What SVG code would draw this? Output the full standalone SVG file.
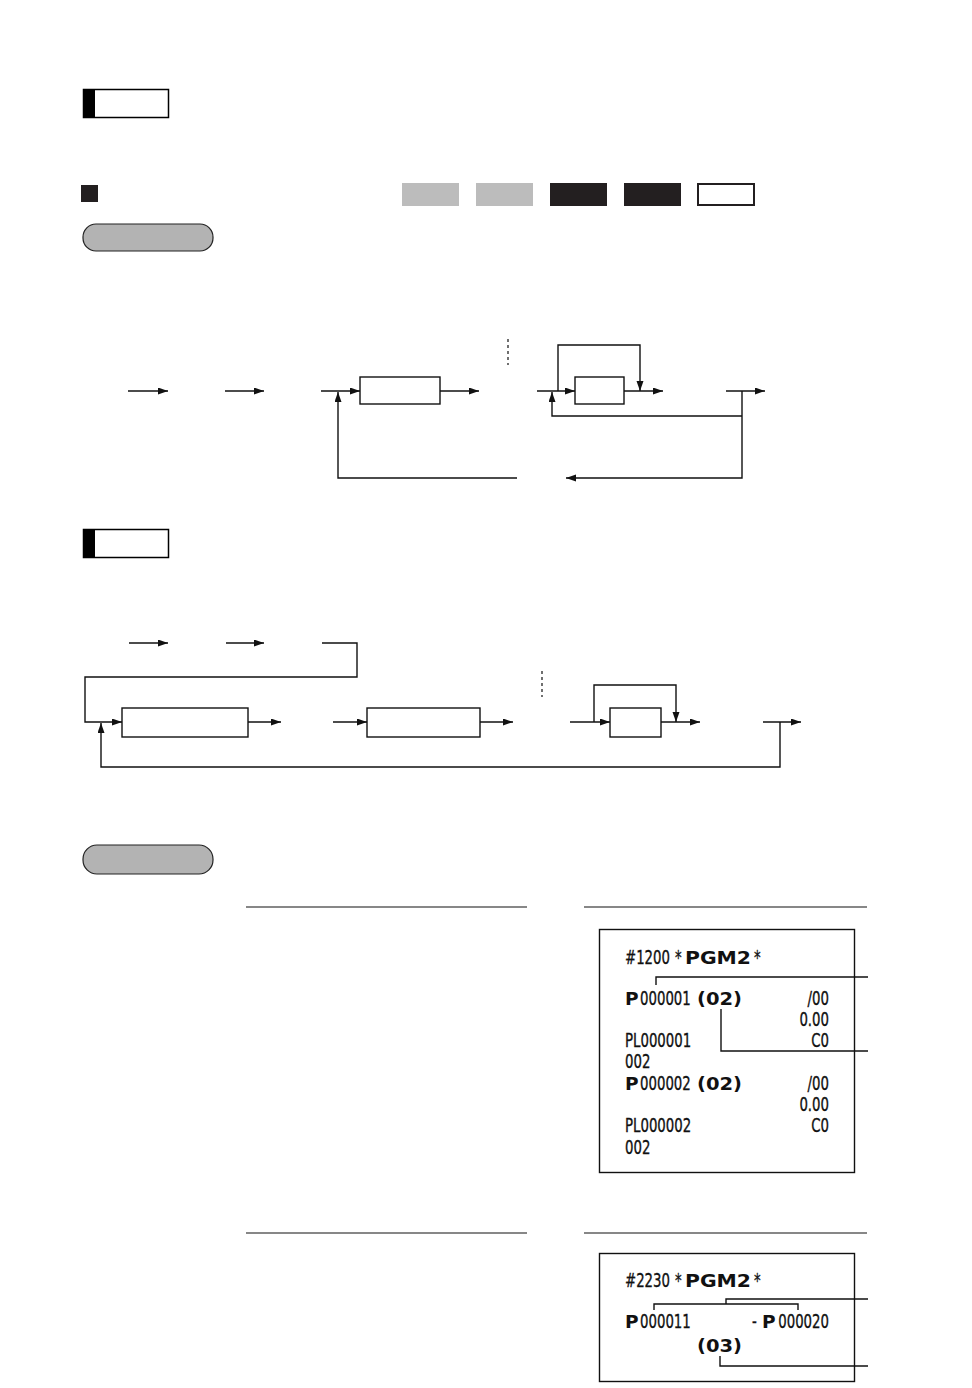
<svg xmlns="http://www.w3.org/2000/svg" width="972" height="1388" viewBox="0 0 972 1388">
<defs>
<marker id="ah" markerUnits="userSpaceOnUse" markerWidth="11" markerHeight="8" refX="10" refY="3.5" orient="auto">
<path d="M0,0 L10,3.5 L0,7 z" fill="#111"/>
</marker>
<style>
.ln{fill:none;stroke:#111;stroke-width:1.4}
.ar{fill:none;stroke:#111;stroke-width:1.4;marker-end:url(#ah)}
.dot{fill:none;stroke:#111;stroke-width:1.2;stroke-dasharray:3,3}
.box{fill:#fff;stroke:#111;stroke-width:1.4}
.hdr{fill:#fff;stroke:#000;stroke-width:1.5}
.pill{fill:#b3b3b3;stroke:#222;stroke-width:1.2}
.rule{stroke:#111;stroke-width:1.2}
.rc{fill:#fff;stroke:#111;stroke-width:1.4}
.t{font-family:"DejaVu Sans Condensed","DejaVu Sans",sans-serif;font-stretch:condensed;font-size:20px;fill:#111;stroke:#111;stroke-width:0.35}
.r{text-anchor:end}
.b{font-family:"DejaVu Sans","Liberation Sans",sans-serif;font-weight:bold;font-size:18.5px;fill:#111}
</style>
</defs>
<rect width="972" height="1388" fill="#fff"/>

<g id="header1">
<rect class="hdr" x="83.5" y="89.5" width="85" height="28"/>
<rect x="83" y="89" width="12" height="29" fill="#000"/>
</g>
<g id="bullet"><rect x="81" y="185" width="17" height="17" fill="#231f20"/></g>
<g id="modes">
<rect x="402" y="183" width="57" height="23" fill="#bcbcbc"/>
<rect x="476" y="183" width="57" height="23" fill="#bcbcbc"/>
<rect x="550" y="183" width="57" height="23" fill="#231f20"/>
<rect x="624" y="183" width="57" height="23" fill="#231f20"/>
<rect x="698" y="184" width="56" height="21" fill="#fff" stroke="#231f20" stroke-width="2"/>
</g>
<g id="pill1"><rect class="pill" x="83" y="224" width="130" height="27" rx="13" ry="13"/></g>

<g id="flow1-nodes">
<rect id="f1box1" class="box" x="360" y="377" width="80" height="27"/>
<rect id="f1box2" class="box" x="575" y="377" width="49" height="27"/>
</g>
<g id="flow1-connectors">
<path class="ar" d="M128,391 H168"/>
<path class="ar" d="M225,391 H264"/>
<path class="ar" d="M321,391 H360"/>
<path class="ar" d="M517,478 H338 V392"/>
<path class="ar" d="M440,391 H479"/>
<path class="dot" d="M508,339 V365"/>
<path class="ar" d="M537,391 H575"/>
<path class="ar" d="M558,391 V345 H640 V391"/>
<path class="ar" d="M624,391 H663"/>
<path class="ar" d="M726,391 H765"/>
<path class="ar" d="M742,391 V478 H566"/>
<path class="ar" d="M742,416 H552 V392"/>
</g>

<g id="header2">
<rect class="hdr" x="83.5" y="529.5" width="85" height="28"/>
<rect x="83" y="529" width="12" height="29" fill="#000"/>
</g>

<g id="flow2-nodes">
<rect id="f2box1" class="box" x="122" y="708" width="126" height="29"/>
<rect id="f2box2" class="box" x="367" y="708" width="113" height="29"/>
<rect id="f2box3" class="box" x="610" y="708" width="51" height="29"/>
</g>
<g id="flow2-connectors">
<path class="ar" d="M129,643 H168"/>
<path class="ar" d="M226,643 H264"/>
<path class="ar" d="M322,643 H357 V677 H85 V722 H122"/>
<path class="ar" d="M248,722 H281"/>
<path class="ar" d="M333,722 H367"/>
<path class="ar" d="M480,722 H513"/>
<path class="dot" d="M542,671 V697"/>
<path class="ar" d="M570,722 H610"/>
<path class="ar" d="M594,722 V685 H676 V722"/>
<path class="ar" d="M661,722 H700"/>
<path class="ar" d="M763,722 H801"/>
<path class="ar" d="M780,722 V767 H101 V723"/>
</g>

<g id="pill2"><rect class="pill" x="83" y="845" width="130" height="29" rx="14" ry="14"/></g>

<g id="rules">
<line class="rule" x1="246" y1="907" x2="527" y2="907"/>
<line class="rule" x1="584" y1="907" x2="867" y2="907"/>
<line class="rule" x1="246" y1="1233" x2="527" y2="1233"/>
<line class="rule" x1="584" y1="1233" x2="867" y2="1233"/>
</g>

<g id="receipt1">
<rect class="rc" x="599.5" y="929.5" width="255" height="243"/>
<g transform="scale(0.74,1)">
<text class="t" x="844.6" y="964">#1200</text>
<text class="t" x="912.2" y="964">*</text>
<text class="t" x="1018.9" y="964">*</text>
<text class="t" x="864.9" y="1005">000001</text>
<text class="t r" x="1120.3" y="1005">/00</text>
<text class="t r" x="1120.3" y="1026">0.00</text>
<text class="t" x="844.6" y="1047">PL000001</text>
<text class="t r" x="1120.3" y="1047">C0</text>
<text class="t" x="844.6" y="1068">002</text>
<text class="t" x="864.9" y="1090">000002</text>
<text class="t r" x="1120.3" y="1090">/00</text>
<text class="t r" x="1120.3" y="1111">0.00</text>
<text class="t" x="844.6" y="1132">PL000002</text>
<text class="t r" x="1120.3" y="1132">C0</text>
<text class="t" x="844.6" y="1154">002</text>
</g>
<text class="b" x="685" y="964" textLength="66" lengthAdjust="spacingAndGlyphs">PGM2</text>
<text class="b" x="625" y="1005">P</text>
<text class="b" x="697" y="1005" textLength="45" lengthAdjust="spacingAndGlyphs">(02)</text>
<text class="b" x="625" y="1090">P</text>
<text class="b" x="697" y="1090" textLength="45" lengthAdjust="spacingAndGlyphs">(02)</text>
</g>
<g id="receipt1-leaders">
<path class="ln" d="M656,985 V977 H868"/>
<path class="ln" d="M721,1009 V1051 H868"/>
</g>

<g id="receipt2">
<rect class="rc" x="599.5" y="1253.5" width="255" height="128"/>
<g transform="scale(0.74,1)">
<text class="t" x="844.6" y="1287">#2230</text>
<text class="t" x="912.2" y="1287">*</text>
<text class="t" x="1018.9" y="1287">*</text>
<text class="t" x="864.9" y="1328">000011</text>
<text class="t" x="1016.2" y="1328">-</text>
<text class="t r" x="1120.3" y="1328">000020</text>
</g>
<text class="b" x="685" y="1287" textLength="66" lengthAdjust="spacingAndGlyphs">PGM2</text>
<text class="b" x="625" y="1328">P</text>
<text class="b" x="762" y="1328">P</text>
<text class="b" x="697" y="1352" textLength="45" lengthAdjust="spacingAndGlyphs">(03)</text>
</g>
<g id="receipt2-leaders">
<path class="ln" d="M654,1310 V1304 H798 V1310"/>
<path class="ln" d="M726,1304 V1299 H868"/>
<path class="ln" d="M720,1356 V1366 H868"/>
</g>
</svg>
